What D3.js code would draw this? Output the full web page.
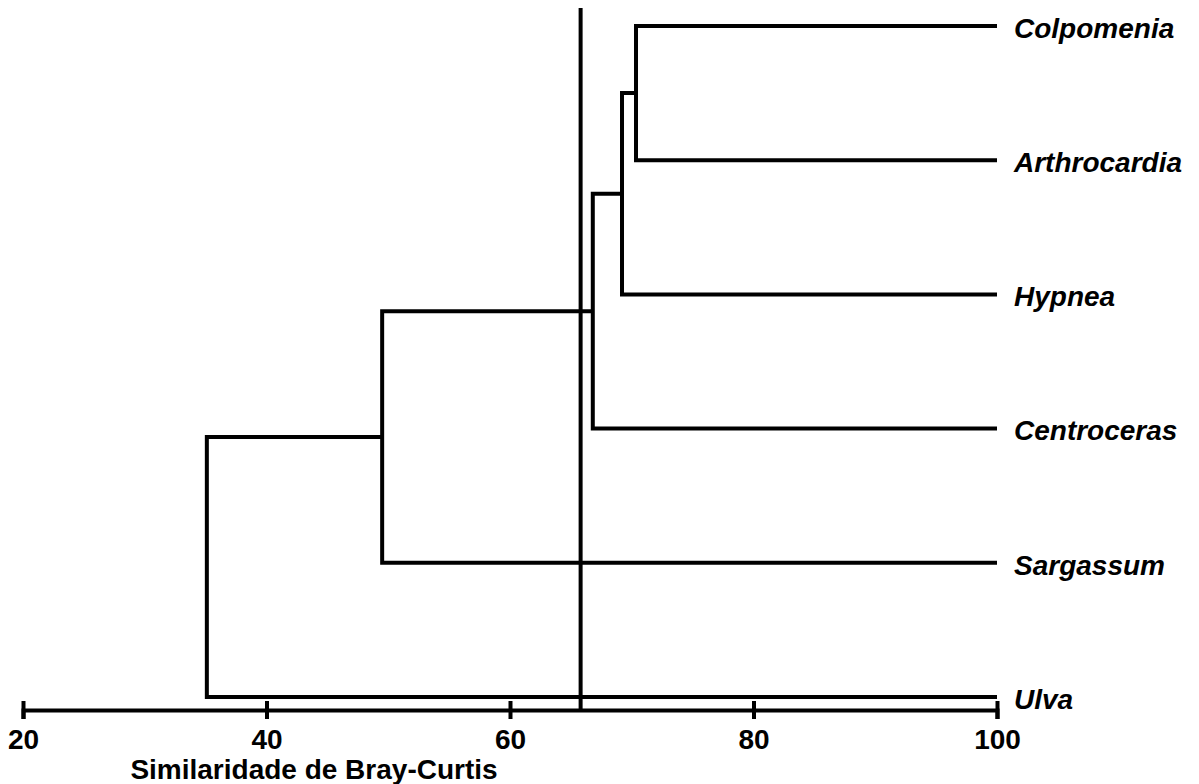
<!DOCTYPE html>
<html>
<head>
<meta charset="utf-8">
<script src="https://cdn.jsdelivr.net/npm/d3@7"></script>
<style>
  html, body { margin: 0; padding: 0; background: #fff; }
  svg { display: block; }
</style>
</head>
<body>
<svg id="chart" width="1199" height="784"></svg>
<script>
// ---- Data ----
const leaves = ["Colpomenia", "Arthrocardia", "Hypnea", "Centroceras", "Sargassum", "Ulva"];
// merges: [childA, childB, similarity]; children are leaf names or merge ids "m0".."m4"
const mergeA = ["Colpomenia", "m0", "m1", "m2", "m3"];
const mergeB = ["Arthrocardia", "Hypnea", "Centroceras", "Sargassum", "Ulva"];
const mergeSim = [70.35, 69.2, 66.8, 49.5, 35.1];
const cutLevel = 65.8;
const tickValues = [20, 40, 60, 80, 100];
const axisTitle = "Similaridade de Bray-Curtis";

// ---- Layout ----
const svg = d3.select("#chart");
const x = d3.scaleLinear().domain([20, 100]).range([23, 997]);
const y = d3.scalePoint().domain(leaves).range([26, 697]);
const axisY = 710;
const sw = 4;

const pos = {};
leaves.forEach(l => { pos[l] = { x: x(100), y: y(l) }; });
const links = [];
mergeA.forEach((a, i) => {
  const b = mergeB[i];
  const nx = x(mergeSim[i]);
  const pa = pos[a], pb = pos[b];
  links.push([[pa.x, pa.y], [nx, pa.y], [nx, pb.y], [pb.x, pb.y]]);
  pos["m" + i] = { x: nx, y: (pa.y + pb.y) / 2 };
});

const line = d3.line();
svg.append("g").selectAll("path").data(links).join("path")
  .attr("d", d => line(d))
  .attr("fill", "none")
  .attr("stroke", "#000")
  .attr("stroke-width", sw)
  .attr("stroke-linejoin", "miter");

// cut line
svg.append("line")
  .attr("x1", x(cutLevel)).attr("x2", x(cutLevel))
  .attr("y1", 8).attr("y2", axisY)
  .attr("stroke", "#000").attr("stroke-width", sw);

// leaf labels
svg.append("g").selectAll("text").data(leaves).join("text")
  .attr("x", 1014)
  .attr("y", d => y(d))
  .attr("dy", "0.42em")
  .attr("font-family", "Liberation Sans, Arial, sans-serif")
  .attr("font-size", 28)
  .attr("font-weight", "bold")
  .attr("font-style", "italic")
  .text(d => d);

// axis
const axis = d3.axisBottom(x).tickValues(tickValues).tickSizeOuter(0).tickSize(9).tickPadding(12);
const gAxis = svg.append("g").attr("transform", `translate(0,${axisY})`).call(axis);
gAxis.select(".domain").attr("stroke", "#000").attr("stroke-width", sw);
gAxis.selectAll(".tick line").attr("y1", -9).attr("y2", 9).attr("stroke", "#000").attr("stroke-width", sw);
gAxis.selectAll(".tick text")
  .attr("y", 39).attr("dy", 0)
  .attr("fill", "#000")
  .attr("font-family", "Liberation Sans, Arial, sans-serif")
  .attr("font-size", 28)
  .attr("font-weight", "bold");

svg.append("text")
  .attr("x", 314).attr("y", 779)
  .attr("text-anchor", "middle")
  .attr("font-family", "Liberation Sans, Arial, sans-serif")
  .attr("font-size", 28)
  .attr("font-weight", "bold")
  .text(axisTitle);
</script>
</body>
</html>
